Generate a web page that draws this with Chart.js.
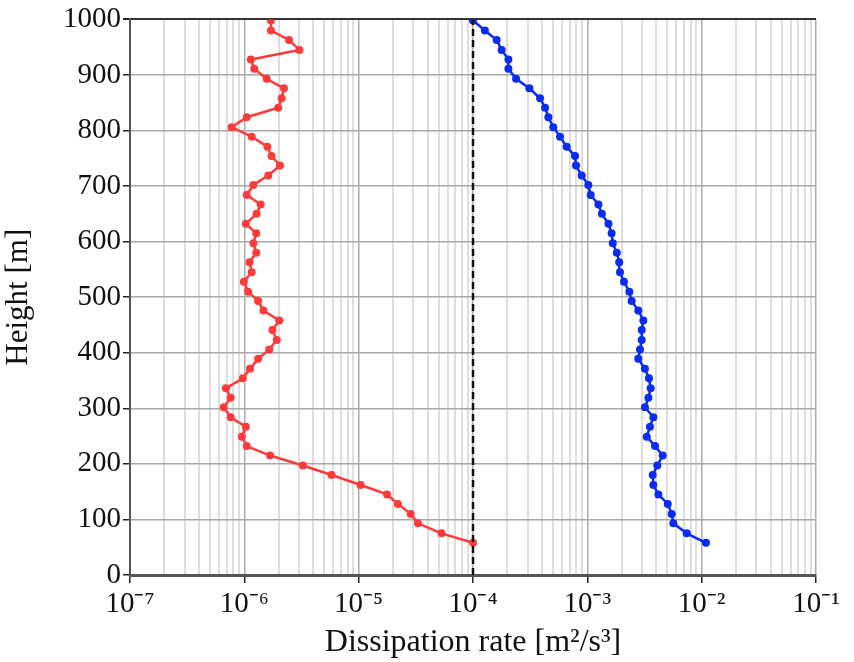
<!DOCTYPE html>
<html>
<head>
<meta charset="utf-8">
<script src="https://cdn.jsdelivr.net/npm/chart.js@4/dist/chart.umd.min.js"></script>
<style>
  html, body { margin: 0; padding: 0; background: #fff; }
  #wrap { width: 854px; height: 662px; }
</style>
</head>
<body>
<div id="wrap"><canvas id="profileChart" width="854" height="662"></canvas></div>
<script>
// measurement heights [m], bottom to top
const heights = [58, 75, 93, 110, 128, 145, 162, 180, 197, 215,
    232, 249, 267, 284, 302, 319, 336, 354, 371, 389,
    406, 423, 441, 458, 476, 493, 510, 528, 545, 563,
    580, 597, 615, 632, 650, 667, 684, 702, 719, 737,
    754, 771, 789, 806, 824, 841, 858, 876, 893, 911,
    928, 945, 963, 980, 998];

// red profile [m2/s3]
const redRates = [1.0e-4, 5.3e-5, 3.3e-5, 2.85e-5, 2.2e-5, 1.77e-5, 1.04e-5, 5.8e-6, 3.25e-6, 1.68e-6,
    1.05e-6, 9.5e-7, 1.03e-6, 7.6e-7, 6.6e-7, 7.6e-7, 6.9e-7, 9.7e-7, 1.12e-6, 1.32e-6,
    1.65e-6, 1.92e-6, 1.76e-6, 2.02e-6, 1.47e-6, 1.32e-6, 1.08e-6, 9.9e-7, 1.16e-6, 1.11e-6,
    1.27e-6, 1.20e-6, 1.27e-6, 1.03e-6, 1.28e-6, 1.39e-6, 1.05e-6, 1.2e-6, 1.62e-6, 2.05e-6,
    1.73e-6, 1.59e-6, 1.16e-6, 7.75e-7, 1.05e-6, 1.98e-6, 2.12e-6, 2.22e-6, 1.57e-6, 1.22e-6,
    1.14e-6, 3.03e-6, 2.46e-6, 1.71e-6, 1.71e-6];

// blue profile [m2/s3]
const blueRates = [1.09e-2, 7.4e-3, 5.65e-3, 5.47e-3, 5.05e-3, 4.18e-3, 3.78e-3, 3.73e-3, 4.09e-3, 4.56e-3,
    3.91e-3, 3.31e-3, 3.53e-3, 3.78e-3, 3.19e-3, 3.42e-3, 3.58e-3, 3.46e-3, 3.19e-3, 2.79e-3,
    2.89e-3, 2.99e-3, 2.99e-3, 3.09e-3, 2.79e-3, 2.44e-3, 2.33e-3, 2.09e-3, 1.93e-3, 1.90e-3,
    1.81e-3, 1.67e-3, 1.63e-3, 1.53e-3, 1.34e-3, 1.25e-3, 1.07e-3, 1.02e-3, 8.93e-4, 7.96e-4,
    7.8e-4, 6.6e-4, 5.77e-4, 5.04e-4, 4.56e-4, 4.27e-4, 3.86e-4, 3.11e-4, 2.38e-4, 2.04e-4,
    2.04e-4, 1.78e-4, 1.61e-4, 1.27e-4, 1.0e-4];

// dashed reference line
const refRate = 1e-4;
const refHeights = [0, 1000];

// x axis decades (exponents) and y axis ticks
const decades = [-7, -6, -5, -4, -3, -2, -1];
const yTicks = [0, 100, 200, 300, 400, 500, 600, 700, 800, 900, 1000];

const sup = { "-": "\u207B", "0": "\u2070", "1": "\u00B9", "2": "\u00B2", "3": "\u00B3",
    "4": "\u2074", "5": "\u2075", "6": "\u2076", "7": "\u2077", "8": "\u2078", "9": "\u2079" };
const toSup = s => String(s).split("").map(c => sup[c] || c).join("");

const isDecade = v => Math.abs(Math.log10(v) - Math.round(Math.log10(v))) < 1e-9;

// log ticks at 1..9 x 10^n
const xTickValues = [];
decades.forEach((e, i) => {
    const last = i === decades.length - 1;
    for (let m = 1; m <= (last ? 1 : 9); m++) xTickValues.push(m * Math.pow(10, e));
});

const serif = "'Liberation Serif', 'Times New Roman', serif";

const ctx = document.getElementById("profileChart").getContext("2d");
new Chart(ctx, {
    type: "scatter",
    data: {
        datasets: [
            {
                label: "ref",
                data: refHeights.map(h => ({ x: refRate, y: h })),
                showLine: true,
                borderColor: "#111",
                borderWidth: 2.5,
                borderDash: [7, 4],
                pointRadius: 0
            },
            {
                label: "red",
                data: heights.map((h, i) => ({ x: redRates[i], y: h })),
                showLine: true,
                borderColor: "#ff3a3a",
                backgroundColor: "#ff3a3a",
                borderWidth: 2.5,
                pointRadius: 4,
                pointBorderWidth: 0
            },
            {
                label: "blue",
                data: heights.map((h, i) => ({ x: blueRates[i], y: h })),
                showLine: true,
                borderColor: "#0a2cf2",
                backgroundColor: "#0a2cf2",
                borderWidth: 2.5,
                pointRadius: 4,
                pointBorderWidth: 0
            }
        ]
    },
    options: {
        responsive: false,
        animation: false,
        layout: { padding: { top: 19, right: 38, left: 0, bottom: 0 } },
        plugins: {
            legend: { display: false },
            tooltip: { enabled: false }
        },
        scales: {
            x: {
                type: "logarithmic",
                min: 1e-7,
                max: 1e-1,
                afterBuildTicks: scale => {
                    scale.ticks = xTickValues.map(v => ({ value: v }));
                },
                afterFit: scale => { scale.height = 87; },
                ticks: {
                    autoSkip: false,
                    maxRotation: 0,
                    color: "#111",
                    font: { family: serif, size: 29 },
                    padding: 4,
                    callback: v => isDecade(v) ? "10" + toSup(Math.round(Math.log10(v))) : ""
                },
                grid: {
                    color: c => isDecade(c.tick.value) ? "#ababab" : "#dedede",
                    lineWidth: c => isDecade(c.tick.value) ? 1.5 : 2,
                    tickColor: c => isDecade(c.tick.value) ? "#222" : "rgba(0,0,0,0)",
                    tickLength: 8
                },
                border: { color: "#555", width: 3 },
                title: {
                    display: true,
                    text: "Dissipation rate [m\u00B2/s\u00B3]",
                    color: "#111",
                    font: { family: serif, size: 32 },
                    padding: { top: 0, bottom: 0 }
                }
            },
            y: {
                min: 0,
                max: 1000,
                afterBuildTicks: scale => {
                    scale.ticks = yTicks.map(v => ({ value: v }));
                },
                afterFit: scale => { scale.width = 130; },
                ticks: {
                    color: "#111",
                    font: { family: serif, size: 29 },
                    padding: 2,
                    callback: v => String(v)
                },
                grid: {
                    color: c => c.tick.value === 1000 ? "#333" : "#a8a8a8",
                    lineWidth: c => c.tick.value === 1000 ? 2 : 1.5,
                    tickColor: "#222",
                    tickLength: 7
                },
                border: { color: "#555", width: 2 },
                title: {
                    display: true,
                    text: "Height [m]",
                    color: "#111",
                    font: { family: serif, size: 31 },
                    padding: { top: 0, bottom: 4 }
                }
            }
        }
    }
});
</script>
</body>
</html>
